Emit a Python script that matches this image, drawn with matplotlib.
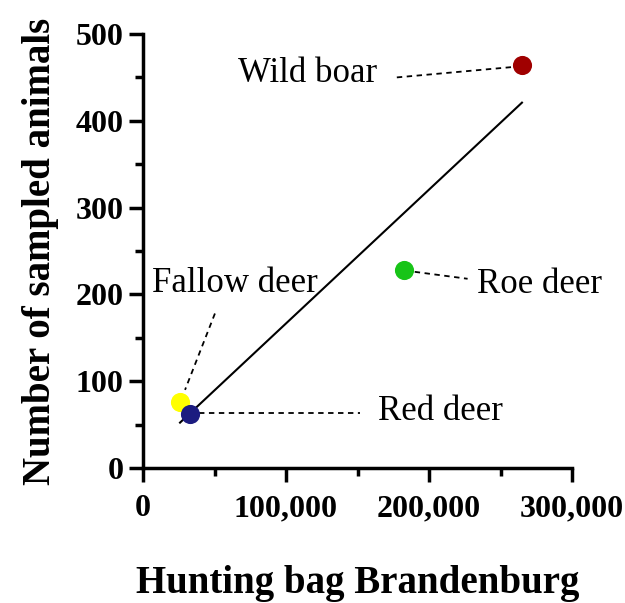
import numpy as np
import matplotlib
matplotlib.use('Agg')
import matplotlib.pyplot as plt
from matplotlib.ticker import FuncFormatter, MultipleLocator

# Hunting bag vs. sampled animals per species
species = ['Wild boar', 'Roe deer', 'Fallow deer', 'Red deer']
hunting_bag = [265000, 182500, 25900, 32900]
sampled = [464, 228, 76, 62]
colors = ['#a00000', '#18c418', '#ffff00', '#1c1c80']

# label position (data coords) and where the leader line starts / ends
label_xy = [(115000, 455), (277500, 211), (64000, 212), (208000, 65)]
leader_from = [(177500, 450), (190000, 226), (50300, 178), (39500, 63)]
leader_to = [(258700, 462), (227000, 218), (29400, 90), (151700, 63)]

plt.rcParams['font.family'] = ['Liberation Serif', 'DejaVu Serif']

fig = plt.figure(figsize=(6.25, 6.03), dpi=100)
ax = fig.add_axes([0.2288, 0.2239, 0.6864, 0.7197])

# linear fit over the range of the data
coef = np.polyfit(hunting_bag, sampled, 1)
xs = np.array([min(hunting_bag), max(hunting_bag)])
ax.plot(xs, np.polyval(coef, xs), color='black', lw=1.5, zorder=1)

for i in [2, 3, 1, 0]:
    ax.scatter(hunting_bag[i], sampled[i], s=190, color=colors[i], zorder=3, linewidths=0)

for name, (lx, ly), p0, p1 in zip(species, label_xy, leader_from, leader_to):
    ax.text(lx, ly, name, ha='center', va='center', fontsize=25)
    ax.plot([p0[0], p1[0]], [p0[1], p1[1]], color='black', lw=1.3, ls=(0, (3, 2.5)), zorder=2)

ax.set_xlim(0, 300000)
ax.set_ylim(0, 500)
ax.xaxis.set_major_locator(MultipleLocator(100000))
ax.xaxis.set_minor_locator(MultipleLocator(50000))
ax.yaxis.set_major_locator(MultipleLocator(100))
ax.yaxis.set_minor_locator(MultipleLocator(50))
ax.xaxis.set_major_formatter(FuncFormatter(lambda v, p: f'{int(v):,}'))

for s in ['top', 'right']:
    ax.spines[s].set_visible(False)
for s in ['left', 'bottom']:
    ax.spines[s].set_linewidth(2.5)
ax.tick_params(which='major', length=10, width=2.5, labelsize=23, direction='out')
ax.tick_params(which='minor', length=6, width=2.5, direction='out')
ax.tick_params(axis='x', pad=9)
ax.tick_params(axis='y', pad=4)
for lab in ax.get_xticklabels() + ax.get_yticklabels():
    lab.set_fontweight('bold')

ax.set_xlabel('Hunting bag Brandenburg', fontsize=28, fontweight='bold', labelpad=30)
ax.set_ylabel('Number of sampled animals', fontsize=28, fontweight='bold', labelpad=12)

fig.savefig('out.png', dpi=100)
